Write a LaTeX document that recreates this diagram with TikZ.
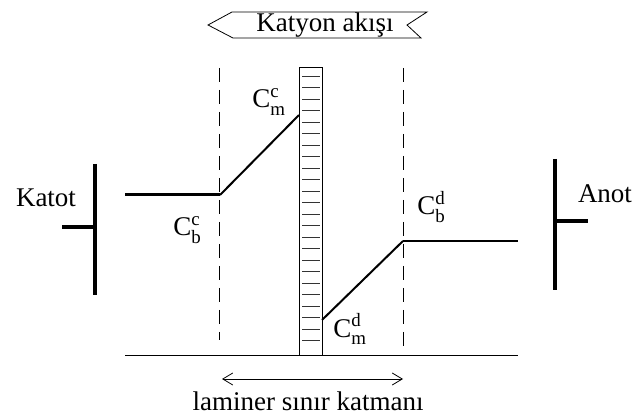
\documentclass[tikz,border=0pt]{standalone}
\usepackage{fontspec}
\setmainfont{Liberation Serif}
\usetikzlibrary{arrows.meta}
\begin{document}
\begin{tikzpicture}[x=0.5pt,y=-0.5pt,font=\fontsize{13.5}{16}\selectfont,
	electrode/.style={line width=1.7pt},
	profile/.style={line width=1pt},
	guide/.style={line width=0.5pt,dash pattern=on 7pt off 4pt},
	conc/.style={inner sep=0pt,anchor=base west}]
	\useasboundingbox (0,0) rectangle (633,417);
	\node[anchor=base] (flow) at (325,32) {Katyon akışı};
	\draw (208,25) -- (232,12) -- (427,12) -- (407,25) -- (421,38) -- (233,38) -- cycle;
	\draw[electrode] (95,164) -- (95,295);
	\draw[electrode] (62,227) -- (95,227);
	\node[anchor=base] (katot) at (46,207) {Katot};
	\draw[electrode] (555,159) -- (555,290);
	\draw[electrode] (555,221) -- (588,221);
	\node[anchor=base] (anot) at (605,203) {Anot};
	\draw[guide] (219,68) -- (219,340);
	\draw[guide] (403,68) -- (403,350);
	\draw (299,67) rectangle (322,355);
	\foreach \i in {0,...,23} { \draw[black!80] (302,76+11.5*\i) -- (320,76+11.5*\i); }
	\draw (125,355) -- (518,355);
	\coordinate (start) at (125,195);
	\coordinate (cbc) at (220,195);
	\coordinate (cmc) at (299,115);
	\coordinate (cmd) at (322,320);
	\coordinate (cbd) at (403,241);
	\coordinate (end) at (518,241);
	\draw[line width=1.5pt] (start) -- (cbc);
	\draw[profile] (cbc) -- (cmc);
	\draw[profile] (cmd) -- (cbd);
	\draw[line width=0.7pt] (cbd) -- (end);
	\node[conc] (cbclabel) at (173,236) {$\mathrm{C}_{\mathrm{b}}^{\mathrm{c}}$};
	\node[conc] (cmclabel) at (252,108) {$\mathrm{C}_{\mathrm{m}}^{\mathrm{c}}$};
	\node[conc] (cmdlabel) at (333,337) {$\mathrm{C}_{\mathrm{m}}^{\mathrm{d}}$};
	\node[conc] (cbdlabel) at (417,215) {$\mathrm{C}_{\mathrm{b}}^{\mathrm{d}}$};
	\coordinate (la) at (222,379);
	\coordinate (lb) at (403,379);
	\draw[{Straight Barb[length=5pt,width=6pt]}-{Straight Barb[length=5pt,width=6pt]}] (la) -- (lb);
	\node[anchor=base] (layer) at (308,410) {laminer sınır katmanı};
\end{tikzpicture}
\end{document}
